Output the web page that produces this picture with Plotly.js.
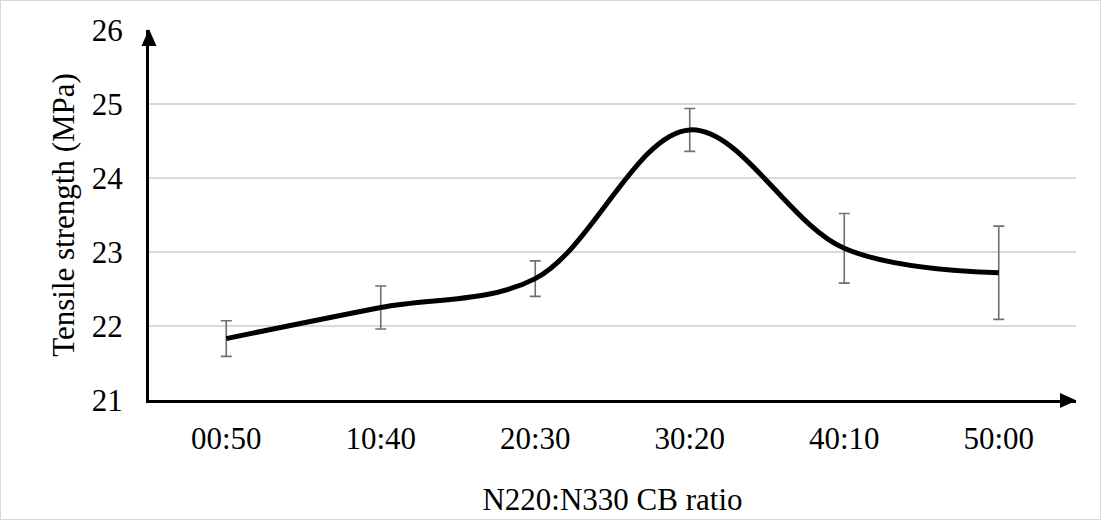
<!DOCTYPE html>
<html>
<head>
<meta charset="utf-8">
<script src="https://cdn.plot.ly/plotly-3.0.1.min.js"></script>
<style>
  html, body { margin: 0; padding: 0; background: #fff; }
  #wrap { position: relative; width: 1101px; height: 520px; }
  #chart { width: 1101px; height: 520px; }
  #frame { position: absolute; left: 0; top: 0; width: 1101px; height: 520px; box-sizing: border-box; border: 1px solid #d9d9d9; pointer-events: none; }
</style>
</head>
<body>
<div id="wrap"><div id="chart"></div><div id="frame"></div></div>
<script>
const categories = ["00:50", "10:40", "20:30", "30:20", "40:10", "50:00"];
const tensileStrength = [21.83, 22.25, 22.64, 24.65, 23.05, 22.72];
const errorValues = [0.24, 0.29, 0.24, 0.29, 0.47, 0.63];
const yTickValues = [21, 22, 23, 24, 25, 26];

const fontFamily = '"Liberation Serif", "Times New Roman", serif';

// plot area in pixels (for arrowhead geometry)
const W = 1101, H = 520;
const M = { l: 149, r: 25, t: 30, b: 120 };
const pw = W - M.l - M.r, ph = H - M.t - M.b;
const px = v => v / pw, py = v => v / ph;

const trace = {
  type: 'scatter',
  mode: 'lines',
  x: categories,
  y: tensileStrength,
  line: { color: '#000000', width: 5, shape: 'spline', smoothing: 1 },
  error_y: { type: 'data', array: errorValues, visible: true, color: '#6f6f6f', thickness: 1.6, width: 5.5 },
  hoverinfo: 'x+y'
};

const arrowLen = 16, arrowHalf = 7.5;
const yArrow = 'M ' + (-px(arrowHalf)) + ',' + (1 - py(arrowLen)) + ' L ' + 0 + ',' + (1 + py(1)) + ' L ' + px(arrowHalf) + ',' + (1 - py(arrowLen)) + ' Z';
const xArrow = 'M ' + (1 - px(arrowLen)) + ',' + (-py(arrowHalf) - py(0.5)) + ' L ' + (1 + px(0.5)) + ',' + (-py(0.5)) + ' L ' + (1 - px(arrowLen)) + ',' + (py(arrowHalf) - py(0.5)) + ' Z';

const layout = {
  width: W, height: H,
  margin: M,
  paper_bgcolor: '#ffffff',
  plot_bgcolor: '#ffffff',
  showlegend: false,
  font: { family: fontFamily, size: 31, color: '#000000' },
  xaxis: {
    type: 'category',
    range: [-0.5, 5.5],
    showgrid: false,
    zeroline: false,
    showline: true,
    linecolor: '#000000',
    linewidth: 3,
    ticks: '',
    ticklabelstandoff: 9,
    tickfont: { family: fontFamily, size: 31, color: '#000000' },
    title: { text: 'N220:N330 CB ratio', font: { family: fontFamily, size: 31, color: '#000000' }, standoff: 34 }
  },
  yaxis: {
    range: [21, 26],
    tickvals: yTickValues,
    ticktext: yTickValues.map(String),
    showgrid: true,
    gridcolor: '#d9d9d9',
    gridwidth: 1.3,
    zeroline: false,
    showline: true,
    linecolor: '#000000',
    linewidth: 3,
    ticks: '',
    ticklabelstandoff: 17,
    tickfont: { family: fontFamily, size: 31, color: '#000000' },
    title: { text: 'Tensile strength (MPa)', font: { family: fontFamily, size: 31, color: '#000000' }, standoff: 8 }
  },
  shapes: [
    { type: 'path', xref: 'paper', yref: 'paper', path: yArrow, fillcolor: '#000000', line: { width: 0 } },
    { type: 'path', xref: 'paper', yref: 'paper', path: xArrow, fillcolor: '#000000', line: { width: 0 } }
  ]
};

Plotly.newPlot('chart', [trace], layout, { displayModeBar: false, staticPlot: true });
</script>
</body>
</html>
